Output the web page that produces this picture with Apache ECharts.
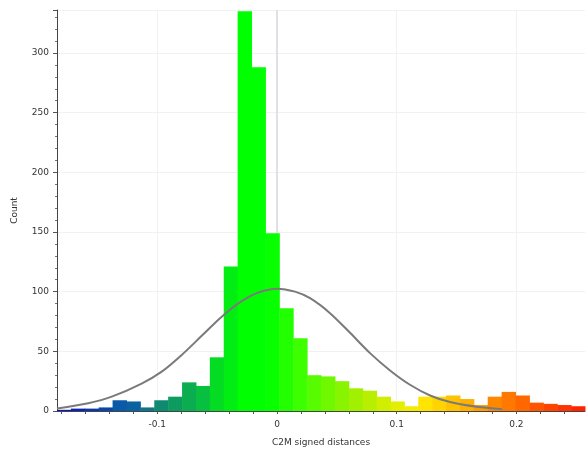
<!DOCTYPE html>
<html>
<head>
<meta charset="utf-8">
<script src="https://cdn.jsdelivr.net/npm/echarts@6/dist/echarts.min.js"></script>
<style>
  html, body { margin: 0; padding: 0; background: #fff; }
  #chart { width: 587px; height: 452px; }
</style>
</head>
<body>
<div id="chart"></div>
<script>
// histogram range (C2M signed distances) and counts per bin
var binMin = -0.1838;
var binMax = 0.2573;
var counts = [1, 2, 2, 3, 9, 8, 3, 9, 12, 24, 21, 45, 121, 335, 288, 149, 86, 61, 30, 29,
              25, 19, 17, 12, 8, 4, 12, 12, 13, 10, 5, 12, 16, 13, 7, 6, 5, 4];

// gaussian fit curve
var gaussX = [-0.1838, -0.1577, -0.1381, -0.1131, -0.0963, -0.0796, -0.0629, -0.0462, -0.0295,
              -0.0150, 0.0000, 0.0150, 0.0276, 0.0443, 0.0610, 0.0777, 0.0944, 0.1111, 0.1279,
              0.1446, 0.1669, 0.1880];
var gaussY = [2, 6.5, 12, 23, 33, 47, 63, 79, 92, 99.5, 102.5, 100, 94.5, 82, 65.5, 48.5, 34,
              22, 13, 7.5, 3.5, 1.5];

var xTicks = [-0.1, 0, 0.1, 0.2];
var xMinorTicks = [-0.18, -0.16, -0.14, -0.12, -0.1, -0.08, -0.06, -0.04, -0.02, 0, 0.02, 0.04,
                   0.06, 0.08, 0.1, 0.12, 0.14, 0.16, 0.18, 0.2, 0.22, 0.24];
var yMax = 336;

// colour of each bin (blue > green > yellow > red scale)
var barColors = ['#0a14c0', '#0a22b8', '#0a34b0', '#0a46aa', '#0a5aa8', '#0c62a0', '#0e7688', '#0e8a70',
                 '#0c9c60', '#0aae50', '#08c040', '#04dc24', '#02ee12', '#00ff00', '#00ff00', '#08ff00',
                 '#22ff00', '#3cff00', '#58fc00', '#70f800', '#88f400', '#a0f000', '#b8ee00', '#d0ee00',
                 '#e4ee00', '#f4ec00', '#ffe400', '#ffd400', '#ffc200', '#ffb000', '#ff9c00', '#ff8800',
                 '#ff7800', '#ff6800', '#ff5400', '#ff4400', '#ff3400', '#ff2400'];

var binW = (binMax - binMin) / counts.length;
var bins = counts.map(function (c, i) {
  return [binMin + i * binW, binMin + (i + 1) * binW, c];
});

var chart = echarts.init(document.getElementById('chart'));

var font = { fontFamily: 'DejaVu Sans', fontSize: 9, color: '#333' };

var option = {
  animation: false,
  backgroundColor: '#fff',
  grid: { left: 57, right: 2, top: 10, bottom: 36 },
  xAxis: [{
    type: 'value',
    min: binMin,
    max: binMax,
    name: 'C2M signed distances',
    nameLocation: 'middle',
    nameGap: 27,
    nameTextStyle: font,
    axisLine: { onZero: false, lineStyle: { color: '#444', width: 1 } },
    axisTick: { show: true, length: 3, customValues: xMinorTicks, lineStyle: { color: '#555' } },
    axisLabel: Object.assign({ customValues: xTicks, margin: 9 }, font),
    splitLine: { show: false }
  }],
  yAxis: {
    type: 'value',
    min: 0,
    max: yMax,
    interval: 50,
    name: 'Count',
    nameLocation: 'middle',
    nameGap: 38,
    nameTextStyle: font,
    axisLine: { show: true, onZero: false, lineStyle: { color: '#444', width: 1 } },
    axisTick: { show: true, length: 4, lineStyle: { color: '#555' } },
    minorTick: { show: true, splitNumber: 5, length: 2, lineStyle: { color: '#777' } },
    axisLabel: Object.assign({ margin: 8, showMaxLabel: false }, font),
    splitLine: { show: true, lineStyle: { color: '#f1f1f1' } }
  },
  series: [{
    type: 'custom',
    z: 2,
    data: bins,
    renderItem: function (params, api) {
      var p0 = api.coord([api.value(0), api.value(2)]);
      var p1 = api.coord([api.value(1), 0]);
      return {
        type: 'rect',
        shape: { x: p0[0], y: p0[1], width: p1[0] - p0[0] + 0.5, height: p1[1] - p0[1] },
        style: { fill: barColors[params.dataIndex] }
      };
    },
    markLine: {
      silent: true,
      symbol: 'none',
      z: 1,
      label: { show: false },
      data: [
        { xAxis: xTicks[0], lineStyle: { color: '#f1f1f1', width: 1, type: 'solid' } },
        { xAxis: xTicks[2], lineStyle: { color: '#f1f1f1', width: 1, type: 'solid' } },
        { xAxis: xTicks[3], lineStyle: { color: '#f1f1f1', width: 1, type: 'solid' } },
        { xAxis: 0, lineStyle: { color: '#d6d6e0', width: 1.5, type: 'solid' } }
      ]
    }
  }, {
    type: 'line',
    z: 3,
    smooth: 0.3,
    symbol: 'none',
    data: gaussX.map(function (x, i) { return [x, gaussY[i]]; }),
    lineStyle: { color: '#7a7a7a', width: 2 }
  }]
};

chart.setOption(option);
</script>
</body>
</html>
